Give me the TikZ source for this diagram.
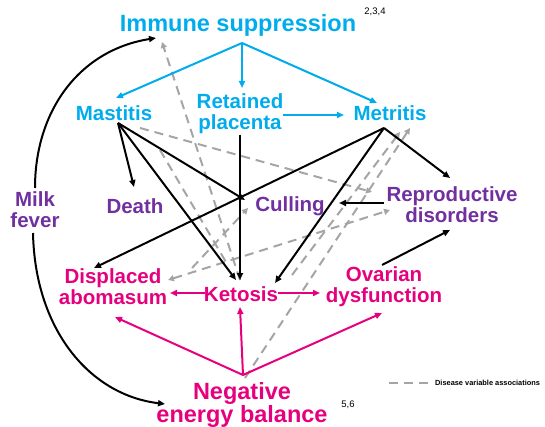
\documentclass[tikz,border=0pt]{standalone}
\usepackage{fontspec}
\setmainfont{Liberation Sans}
\usetikzlibrary{arrows.meta}

\definecolor{immcyan}{RGB}{0,172,236}
\definecolor{outpurple}{RGB}{112,48,160}
\definecolor{metpink}{RGB}{230,0,126}
\definecolor{assocgray}{RGB}{165,165,165}

\tikzset{every picture/.style={line width=0.75pt}}
\tikzset{
  lbl/.style={inner sep=0.75pt, align=center, font=\fontsize{20.5}{21}\selectfont\bfseries},
  biglbl/.style={inner sep=0.75pt, align=center, font=\fontsize{23.5}{22}\selectfont\bfseries},
  refs/.style={inner sep=0.75pt, font=\fontsize{9.5}{9.5}\selectfont},
  blkarr/.style={draw=black, line width=2pt, -{Triangle[length=7pt,width=6pt]}},
  cyanarr/.style={draw=immcyan, line width=2pt, -{Triangle[length=7pt,width=6pt]}},
  pinkarr/.style={draw=metpink, line width=2pt, -{Triangle[length=7pt,width=6pt]}},
  assoc/.style={draw=assocgray, line width=2pt, dash pattern=on 9pt off 6pt},
  assocarr/.style={assoc, -{Triangle[length=6pt,width=6pt]}}
}

\begin{document}
\begin{tikzpicture}[x=1pt,y=1pt,yscale=-1,xscale=1]
\useasboundingbox (0,0) rectangle (545,427);

% Text Node
\draw (238,25) node (imm) [biglbl, text=immcyan] {Immune suppression};
% Text Node
\draw (375,12) node (immref) [refs] {2,3,4};
% Text Node
\draw (114,113) node (mast) [lbl, text=immcyan] {Mastitis};
% Text Node
\draw (240,114) node (ret) [lbl, text=immcyan] {Retained\\placenta};
% Text Node
\draw (390,113) node (metr) [lbl, text=immcyan] {Metritis};
% Text Node
\draw (35,210) node (milk) [lbl, text=outpurple] {Milk\\fever};
% Text Node
\draw (135,206) node (death) [lbl, text=outpurple] {Death};
% Text Node
\draw (290,206) node (cull) [lbl, text=outpurple] {Culling};
% Text Node
\draw (452,205) node (repro) [lbl, text=outpurple] {Reproductive\\disorders};
% Text Node
\draw (113,287) node (disp) [lbl, text=metpink] {Displaced\\abomasum};
% Text Node
\draw (241,294) node (ket) [lbl, text=metpink] {Ketosis};
% Text Node
\draw (384,287) node (ovar) [lbl, text=metpink] {Ovarian\\dysfunction};
% Text Node
\draw (242,405) node (neb) [biglbl, text=metpink] {Negative\\energy balance};
% Text Node
\draw (348,405) node (nebref) [refs] {5,6};

%end points
\coordinate (immFoot) at (242,43);
\coordinate (mastTop) at (116,98);
\coordinate (retTop) at (242,88);
\coordinate (metrTop) at (377,103);
\coordinate (retRight) at (283,115);
\coordinate (metrLeft) at (344,115);
\coordinate (mastFoot) at (118,123);
\coordinate (metrFoot) at (384,128);
\coordinate (retFoot) at (240,135);
\coordinate (deathTop) at (134,187);
\coordinate (cullLeft) at (245,200);
\coordinate (cullRight) at (339,203);
\coordinate (reproLeft) at (384,203);
\coordinate (reproTop) at (450,178);
\coordinate (reproBot) at (450,230);
\coordinate (ovarTop) at (382,265);
\coordinate (dispTop) at (94,268);
\coordinate (ketTopL) at (236,280);
\coordinate (ketTop) at (240,280);
\coordinate (ketTopR) at (275,283);
\coordinate (ketLeft) at (205,293);
\coordinate (dispRight) at (170,293);
\coordinate (ketRight) at (278,293);
\coordinate (ovarLeft) at (320,293);
\coordinate (ketBot) at (240,307);
\coordinate (dispBot) at (115,317);
\coordinate (ovarBot) at (382,313);
\coordinate (nebTop) at (243,375);
\coordinate (milkTop) at (35,188);
\coordinate (milkBot) at (33,233);
\coordinate (immLeft) at (156,38);
\coordinate (nebLeft) at (165,404);

%Dashed Lines (associations)
\draw [assocarr] (ketTop) -- (162,42);
\draw [assocarr] (140,128) -- (372,192);
\draw [assocarr] (245,378) -- (410,128);
\draw [assocarr] (292,275) -- (400,132);
\draw [assoc, {Triangle[length=6pt,width=6pt]}-{Triangle[length=6pt,width=6pt]}] (168,280) -- (390,210);
\draw [assocarr] (192,268) -- (248,208);
\draw [assoc] (160,150) -- (226,262);
\draw [assoc] (389,383) -- (431,383);
% Text Node
\draw (434,383) node (legend) [anchor=west, inner sep=0.75pt, font=\fontsize{7.4}{7.4}\selectfont\bfseries] {Disease variable associations};

%Straight Lines (immune suppression)
\draw [cyanarr] (immFoot) -- (mastTop);
\draw [cyanarr] (immFoot) -- (retTop);
\draw [cyanarr] (immFoot) -- (metrTop);
\draw [cyanarr] (retRight) -- (metrLeft);

%Straight Lines (mastitis)
\draw [blkarr] (mastFoot) -- (deathTop);
\draw [blkarr] (mastFoot) -- (cullLeft);
\draw [blkarr] (mastFoot) -- (ketTopL);
%Straight Lines (retained placenta)
\draw [blkarr] (retFoot) -- (ketTop);
%Straight Lines (metritis)
\draw [blkarr] (metrFoot) -- (reproTop);
\draw [blkarr] (metrFoot) -- (ketTopR);
\draw [blkarr] (metrFoot) -- (dispTop);
%Straight Lines (reproductive)
\draw [blkarr] (reproLeft) -- (cullRight);
\draw [blkarr] (ovarTop) -- (reproBot);

%Curves (milk fever)
\draw [blkarr] (milkTop) .. controls (35,110) and (80,50) .. (immLeft);
\draw [blkarr] (milkBot) .. controls (35,330) and (90,395) .. (nebLeft);

%Straight Lines (energy balance)
\draw [pinkarr] (ketLeft) -- (dispRight);
\draw [pinkarr] (ketRight) -- (ovarLeft);
\draw [pinkarr] (nebTop) -- (ketBot);
\draw [pinkarr] (nebTop) -- (dispBot);
\draw [pinkarr] (nebTop) -- (ovarBot);

\end{tikzpicture}
\end{document}
